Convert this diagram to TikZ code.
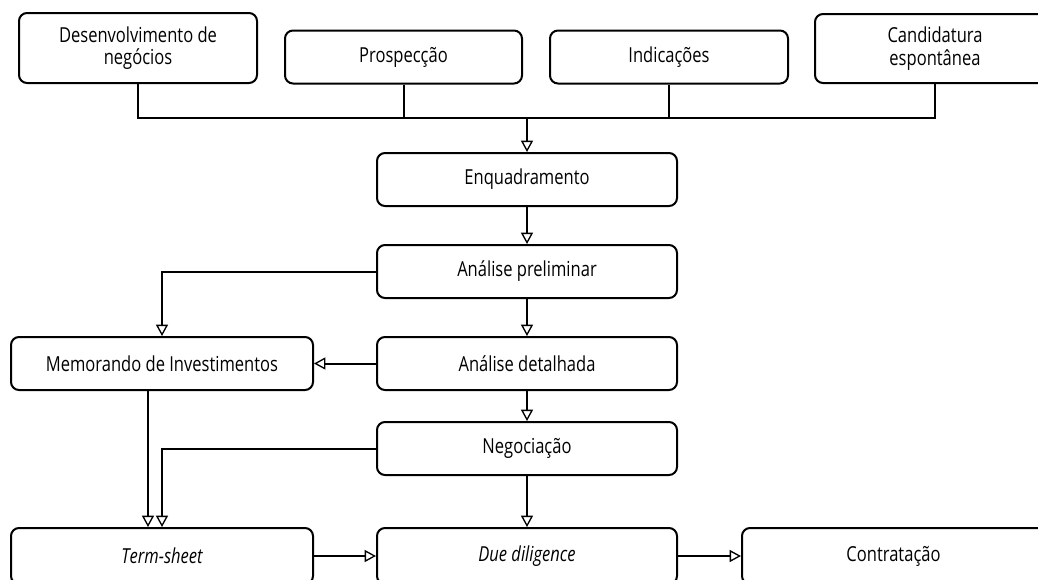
\documentclass[tikz,border=0pt]{standalone}
\usepackage{fontspec}
\setmainfont[FakeStretch=0.8]{Open Sans}
\usepackage{xcolor}
\usepackage{tikz}
\usetikzlibrary{calc}
\usetikzlibrary{arrows.meta}
\usetikzlibrary{positioning}

\tikzset{
  stage/.style={rectangle, rounded corners=6pt, draw=black, line width=1.5pt,
    minimum width=225pt, minimum height=39.75pt, align=center, inner sep=2pt,
    font=\fontsize{15.5}{17}\selectfont},
  flow/.style={-{Triangle[open, width=9pt, length=8.5pt, line width=1pt]}, line width=1.5pt},
  link/.style={line width=1.5pt},
}

\begin{document}
\begin{tikzpicture}[x=0.75pt, y=-0.75pt]
\clip (0,0) rectangle (1038,579);
\useasboundingbox (0,0) rectangle (1038,579);

% sources
\node [stage, minimum width=178.5pt, minimum height=52.5pt] (des) at (138,48) {Desenvolvimento de\\negócios};
\node [stage, minimum width=177.75pt] (pro) at (403.5,57) {Prospecção};
\node [stage, minimum width=178.5pt] (ind) at (669,57) {Indicações};
\node [stage, minimum width=180pt, minimum height=51.75pt] (can) at (935,48.5) {Candidatura\\espontânea};

% main column
\node [stage] (enq) at (527,179.5) {Enquadramento};
\node [stage] (apr) at (527,271.5) {Análise preliminar};
\node [stage] (ade) at (527,363.5) {Análise detalhada};
\node [stage] (neg) at (527,448.5) {Negociação};
\node [stage, minimum width=226.5pt] (mem) at (162,363.5) {Memorando de Investimentos};

% bottom row
\node [stage, minimum width=226.5pt, minimum height=42pt] (ter) at (162,556) {\itshape Term-sheet};
\node [stage, minimum height=42pt] (due) at (527,556) {\itshape Due diligence};
\node [stage, minimum width=227.25pt, minimum height=42pt] (con) at (893.5,556) {Contratação};

% bus
\coordinate (busL) at (138,118);
\coordinate (busR) at (935,118);
\draw [link] (des.south) -- (busL) -- (busR) -- (can.south);
\draw [link] (pro.south) -- (pro.south |- busL);
\draw [link] (ind.south) -- (ind.south |- busL);
\draw [flow] (enq.north |- busL) -- (enq.north);

\draw [flow] (enq) -- (apr);
\draw [flow] (apr) -- (ade);
\draw [flow] (ade) -- (neg);
\draw [flow] (neg) -- (due);
\draw [flow] (apr.west) -| (mem.north);
\draw [flow] (ade.west) -- (mem.east);
\draw [flow] ([xshift=-10.5pt]mem.south) -- ([xshift=-10.5pt]ter.north);
\draw [flow] (neg.west) -| (ter.north);
\draw [flow] (ter) -- (due);
\draw [flow] (due) -- (con);
\end{tikzpicture}
\end{document}
